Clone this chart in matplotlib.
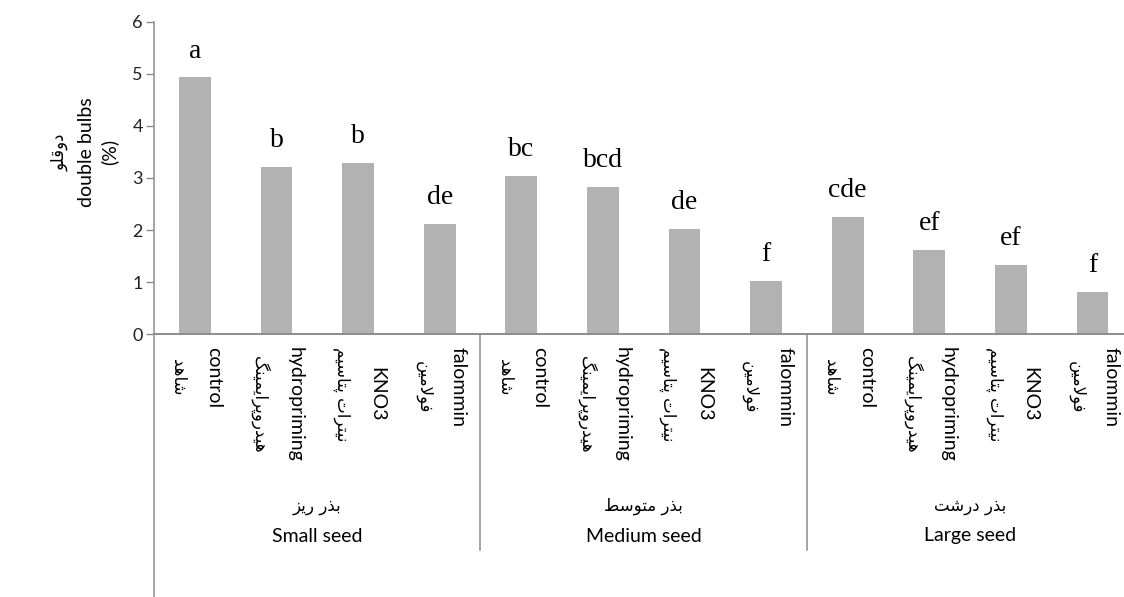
import numpy as np
import matplotlib
matplotlib.use("Agg")
import matplotlib.pyplot as plt
import matplotlib.transforms as mtransforms

# data
groups_en = ["Small seed", "Medium seed", "Large seed"]
groups_fa = ["بذر ریز", "بذر متوسط", "بذر درشت"]
treat_en = ["control", "hydropriming", "KNO3", "falommin"]
treat_fa = ["شاهد", "هیدروپرایمینگ", "نیترات پتاسیم", "فولامین"]
small_seed = [4.93, 3.22, 3.29, 2.12]
medium_seed = [3.04, 2.82, 2.03, 1.02]
large_seed = [2.25, 1.62, 1.33, 0.81]
letters = ["a", "b", "b", "de", "bc", "bcd", "de", "f", "cde", "ef", "ef", "f"]

# tiny persian shaper: contextual forms + right-to-left order
FORMS = {
    'ا': (0xFE8D, 0xFE8E, None, None),
    'ب': (0xFE8F, 0xFE90, 0xFE91, 0xFE92),
    'پ': (0xFB56, 0xFB57, 0xFB58, 0xFB59),
    'ت': (0xFE95, 0xFE96, 0xFE97, 0xFE98),
    'د': (0xFEA9, 0xFEAA, None, None),
    'ذ': (0xFEAB, 0xFEAC, None, None),
    'ر': (0xFEAD, 0xFEAE, None, None),
    'ز': (0xFEAF, 0xFEB0, None, None),
    'س': (0xFEB1, 0xFEB2, 0xFEB3, 0xFEB4),
    'ش': (0xFEB5, 0xFEB6, 0xFEB7, 0xFEB8),
    'ط': (0xFEC1, 0xFEC2, 0xFEC3, 0xFEC4),
    'ف': (0xFED1, 0xFED2, 0xFED3, 0xFED4),
    'ق': (0xFED5, 0xFED6, 0xFED7, 0xFED8),
    'گ': (0xFB92, 0xFB93, 0xFB94, 0xFB95),
    'ل': (0xFEDD, 0xFEDE, 0xFEDF, 0xFEE0),
    'م': (0xFEE1, 0xFEE2, 0xFEE3, 0xFEE4),
    'ن': (0xFEE5, 0xFEE6, 0xFEE7, 0xFEE8),
    'ه': (0xFEE9, 0xFEEA, 0xFEEB, 0xFEEC),
    'و': (0xFEED, 0xFEEE, None, None),
    'ی': (0xFBFC, 0xFBFD, 0xFBFE, 0xFBFF),
}

def fa(text):
    out = []
    n = len(text)
    i = 0
    while i < n:
        c = text[i]
        if c not in FORMS:
            out.append(c)
            i += 1
            continue
        prev = i > 0 and text[i-1] in FORMS and FORMS[text[i-1]][2] is not None
        if c == 'ل' and i + 1 < n and text[i+1] == 'ا':
            out.append(chr(0xFEFC if prev else 0xFEFB))
            i += 2
            continue
        nxt = i + 1 < n and text[i+1] in FORMS and FORMS[c][2] is not None
        iso, fin, ini, med = FORMS[c]
        if prev and nxt:
            f = med
        elif prev:
            f = fin
        elif nxt:
            f = ini
        else:
            f = iso
        out.append(chr(f))
        i += 1
    return ''.join(reversed(out))

EN = "Lato"
FA = "DejaVu Sans"
GREY = "#8c8c8c"

values = small_seed + medium_seed + large_seed
x = np.arange(len(values))

fig = plt.figure(figsize=(11.24, 5.97), dpi=100)
W, H = 1124, 597
y0, y6 = 334.3, 21.7
ax = fig.add_axes([154 / W, 1 - y0 / H, 1 - 154 / W, (y0 - y6) / H])

ax.bar(x, values, width=0.39, color="#b2b2b2", zorder=2)
ax.set_xlim(-0.5, 11.385)
ax.set_ylim(0, 6)
ax.set_yticks(range(7))
ax.set_yticklabels([str(v) for v in range(7)], fontfamily=EN, fontsize=13, color="#222222")
ax.set_xticks([])
ax.tick_params(axis="y", length=6, width=1, color=GREY, pad=2)

for s in ["top", "right"]:
    ax.spines[s].set_visible(False)
ax.spines["left"].set_color(GREY)
ax.spines["bottom"].set_color(GREY)
ax.spines["left"].set_linewidth(1.1)
ax.spines["bottom"].set_linewidth(1.4)
# y axis line runs down to the bottom of the picture
ax.spines["left"].set_bounds(-6 * (H - y0) / (y0 - y6), 6)

for xi, v, lab in zip(x, values, letters):
    ax.annotate(lab, (xi, v), xytext=(0, 10), textcoords="offset points",
                ha="center", va="bottom", fontfamily="Liberation Serif", fontsize=20)

trans = mtransforms.blended_transform_factory(ax.transData, ax.transAxes)
def frac(ypix):
    return (y0 - ypix) / (y0 - y6)

# group separators
for xs in [3.5, 7.5]:
    ax.plot([xs, xs], [0, frac(550)], transform=trans, color=GREY, lw=1.1, clip_on=False)

# category labels (rotated, english on the right, persian on the left)
pairs = []
for xi in x:
    k = xi % 4
    t_en = ax.text(xi + 0.23, frac(380), treat_en[k], transform=trans, rotation=-90,
                   ha="center", va="center", fontfamily=EN, fontsize=14)
    t_fa = ax.text(xi - 0.2, frac(380), fa(treat_fa[k]), transform=trans, rotation=-90,
                   ha="center", va="center", fontfamily=FA, fontsize=12)
    pairs.append((t_en, t_fa))

# group labels
for g in range(3):
    cx = 4 * g + 1.5
    ax.text(cx, frac(506), fa(groups_fa[g]), transform=trans, ha="center", va="center",
            fontfamily=FA, fontsize=12)
    ax.text(cx, frac(536), groups_en[g], transform=trans, ha="center", va="center",
            fontfamily=EN, fontsize=14)

# y label
ylab_y = 1 - 152 / H
fig.text(60 / W, ylab_y, fa("دوقلو"), rotation=90, ha="center", va="center",
         fontfamily=FA, fontsize=12)
fig.text(86 / W, ylab_y, "double bulbs", rotation=90, ha="center", va="center",
         fontfamily=EN, fontsize=14)
fig.text(109 / W, ylab_y, "(%)", rotation=90, ha="center", va="center",
         fontfamily=EN, fontsize=14)

# line up each label pair so the longer line starts just under the axis
fig.canvas.draw()
r = fig.canvas.get_renderer()
top_disp = H - 347
for t_en, t_fa in pairs:
    h = max(t_en.get_window_extent(r).height, t_fa.get_window_extent(r).height)
    c = top_disp - h / 2
    yc = ax.transAxes.inverted().transform((0, c))[1]
    t_en.set_y(yc)
    t_fa.set_y(yc)

fig.savefig("out.png", dpi=100)
